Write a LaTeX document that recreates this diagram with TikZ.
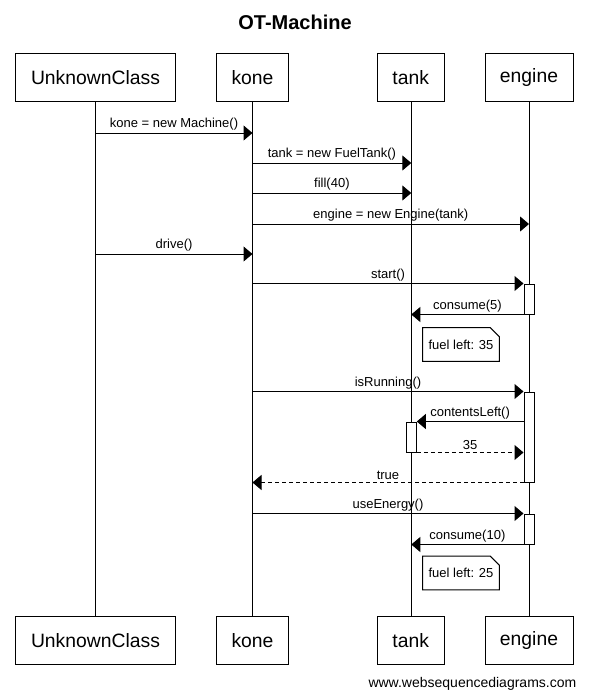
\documentclass[tikz,border=0pt]{standalone}
\usepackage{fontspec}
\setmainfont{Liberation Sans}
\usetikzlibrary{arrows.meta,calc}
\begin{document}
\begin{tikzpicture}[x=0.75pt,y=-0.75pt,
  every node/.style={font=\fontsize{9.75}{11}\selectfont},
  pbox/.style={draw, line width=0.75pt, minimum height=36.5pt, inner sep=0pt, font=\fontsize{14.5}{17}\selectfont, fill=white},
  life/.style={line width=0.75pt},
  msg/.style={line width=0.75pt, -{Triangle[length=6.75pt,width=11.25pt]}},
  ret/.style={msg, dash pattern=on 3pt off 2.25pt},
  lbl/.style={anchor=south, inner sep=1.5pt},
  act/.style={draw, fill=white, line width=0.75pt, minimum width=7.5pt, inner sep=0pt},
  notebox/.style={minimum width=57pt, minimum height=25pt, inner sep=0pt},
  notepath/.style={line width=0.75pt}
]
\useasboundingbox (0,0) rectangle (589,699);
\node[font=\bfseries\fontsize{15}{18}\selectfont] (title) at (295,22) {OT-Machine};

\node[pbox, minimum width=120pt] (uT) at (95.5,77.5) {UnknownClass};
\node[pbox, minimum width=54pt] (kT) at (252.5,77.5) {kone};
\node[pbox, minimum width=50.25pt] (tT) at (410.7,77.5) {tank};
\node[pbox, minimum width=66pt] (eT) at (529,77.5) {engine};

\node[pbox, minimum width=120pt] (uB) at (95.5,640.5) {UnknownClass};
\node[pbox, minimum width=54pt] (kB) at (252.5,640.5) {kone};
\node[pbox, minimum width=50.25pt] (tB) at (410.7,640.5) {tank};
\node[pbox, minimum width=66pt] (eB) at (529,640.5) {engine};

\draw[life] (uT) -- (uB);
\draw[life] (kT) -- (kB);
\draw[life] ([xshift=0.4pt]tT.south) -- ([xshift=0.4pt]tB.north);
\draw[life] (eT) -- (eB);

\node[act, minimum height=22.5pt] (a1) at (529,299) {};
\node[act, minimum height=67.5pt] (a2) at (529,437) {};
\node[act, minimum height=22.5pt] (ta) at (411.3,437) {};
\node[act, minimum height=22.5pt] (a3) at (529,529) {};

\draw[msg] (uT |- 0,133) -- (kT |- 0,133) node[lbl,midway] {kone = new Machine()};
\draw[msg] (kT |- 0,163) -- (ta.center |- 0,163) node[lbl,midway] {tank = new FuelTank()};
\draw[msg] (kT |- 0,193) -- (ta.center |- 0,193) node[lbl,midway] {fill(40)};
\draw[msg] (kT |- 0,224) -- (eT |- 0,224) node[lbl,midway] {engine = new Engine(tank)};
\draw[msg] (uT |- 0,254) -- (kT |- 0,254) node[lbl,midway] {drive()};
\draw[msg] (kT |- a1.north) -- (a1.north west) node[lbl,midway] {start()};
\draw[msg] (a1.south west) -- (ta.center |- a1.south) node[lbl,midway] {consume(5)};

\node[notebox] (n1) at (461,344.5) {fuel left: 35};
\draw[notepath] (n1.north west) -- ($(n1.north east)+(-9,0)$) -- ($(n1.north east)+(0,9)$) -- (n1.south east) -- (n1.south west) -- cycle;

\draw[msg] (kT |- a2.north) -- (a2.north west) node[lbl,midway] {isRunning()};
\draw[msg] (a2.west |- ta.north) -- (ta.north east) node[lbl,midway] {contentsLeft()};
\draw[ret] (ta.south east) -- (a2.west |- ta.south) node[lbl,midway] {35};
\draw[ret] (a2.south west) -- (kT |- a2.south) node[lbl,midway] {true};
\draw[msg] (kT |- a3.north) -- (a3.north west) node[lbl,midway] {useEnergy()};
\draw[msg] (a3.south west) -- (ta.center |- a3.south) node[lbl,midway] {consume(10)};

\node[notebox] (n2) at (461,573) {fuel left: 25};
\draw[notepath] (n2.north west) -- ($(n2.north east)+(-9,0)$) -- ($(n2.north east)+(0,9)$) -- (n2.south east) -- (n2.south west) -- cycle;

\node[anchor=east, font=\fontsize{10.5}{12}\selectfont] (wm) at (581,684) {www.websequencediagrams.com};
\end{tikzpicture}
\end{document}
